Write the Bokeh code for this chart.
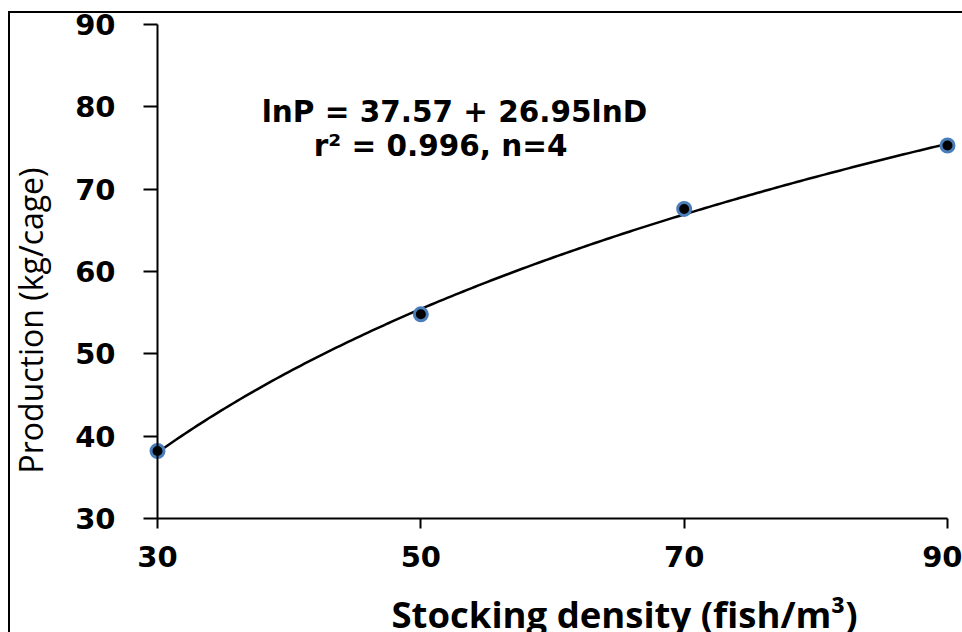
import numpy as np
from bokeh.plotting import figure
from bokeh.models import Label, FixedTicker, Range1d
from bokeh.embed import file_html
from bokeh.resources import INLINE

# ---- data ----
density = [30, 50, 70, 90]
production = [38.2, 54.8, 67.6, 75.3]
x_ticks = [30, 50, 70, 90]
y_ticks = [30, 40, 50, 60, 70, 80, 90]
equation_line1 = "lnP = 37.57 + 26.95lnD"
equation_line2 = "r² = 0.996, n=4"
x_title = "Stocking density (fish/m³)"
y_title = "Production (kg/cage)"

# logarithmic trend line fitted to the points
b, a = np.polyfit(np.log(density), production, 1)
fit_x = np.linspace(min(density), max(density), 200)
fit_y = a + b * np.log(fit_x)

# the frame fills the whole canvas; axes are pinned at x=30 / y=30
p = figure(
    x_range=Range1d(18.835, 91.139), y_range=Range1d(16.154, 91.336),
    frame_width=952, frame_height=619,
    min_border_left=0, min_border_right=0, min_border_top=0, min_border_bottom=0,
    output_backend="svg", toolbar_location=None,
    background_fill_color="white", border_fill_color="white",
    outline_line_color=None,
    margin=(11, 0, 0, 8),
    styles={"border-left": "2px solid black", "border-top": "2px solid black"},
)
p.xgrid.visible = False
p.ygrid.visible = False

for ax in (p.xaxis[0], p.yaxis[0]):
    ax.axis_line_color = "black"
    ax.axis_line_width = 2
    ax.major_tick_line_color = "black"
    ax.major_tick_line_width = 2
    ax.major_tick_in = 0
    ax.minor_tick_line_color = None
    ax.major_label_text_font = "DejaVu Sans"
    ax.major_label_text_font_style = "bold"
    ax.major_label_text_font_size = "29px"
    ax.major_label_text_color = "black"

p.xaxis.ticker = FixedTicker(ticks=x_ticks)
p.xaxis.fixed_location = 30
p.xaxis.bounds = (30, 90)
p.xaxis.major_tick_out = 10
p.xaxis.major_label_standoff = 17

p.yaxis.ticker = FixedTicker(ticks=y_ticks)
p.yaxis.fixed_location = 30
p.yaxis.bounds = (30, 90)
p.yaxis.major_tick_out = 14
p.yaxis.major_label_standoff = 28

p.line(fit_x, fit_y, line_color="black", line_width=2.5)
p.scatter(density, production, size=13, fill_color="black",
          line_color="#4A7EBB", line_width=3)

p.add_layout(Label(x=20.35, y=54.05, text=y_title, angle=np.pi / 2,
                   text_align="center", text_baseline="middle",
                   text_font="Open Sans", text_font_style="normal",
                   text_font_size="32px", text_color="black"))
p.add_layout(Label(x=47.77, y=18.4, text=x_title,
                   text_align="left", text_baseline="alphabetic",
                   text_font="Open Sans", text_font_style="bold",
                   text_font_size="36.5px", text_color="black"))

p.add_layout(Label(x=52.55, y=79.4, text=equation_line1,
                   text_align="center", text_baseline="middle",
                   text_font="DejaVu Sans", text_font_style="bold",
                   text_font_size="29.5px", text_color="black"))
p.add_layout(Label(x=51.5, y=75.3, text=equation_line2,
                   text_align="center", text_baseline="middle",
                   text_font="DejaVu Sans", text_font_style="bold",
                   text_font_size="29.5px", text_color="black"))

open("out.html", "w").write(file_html(p, INLINE))
